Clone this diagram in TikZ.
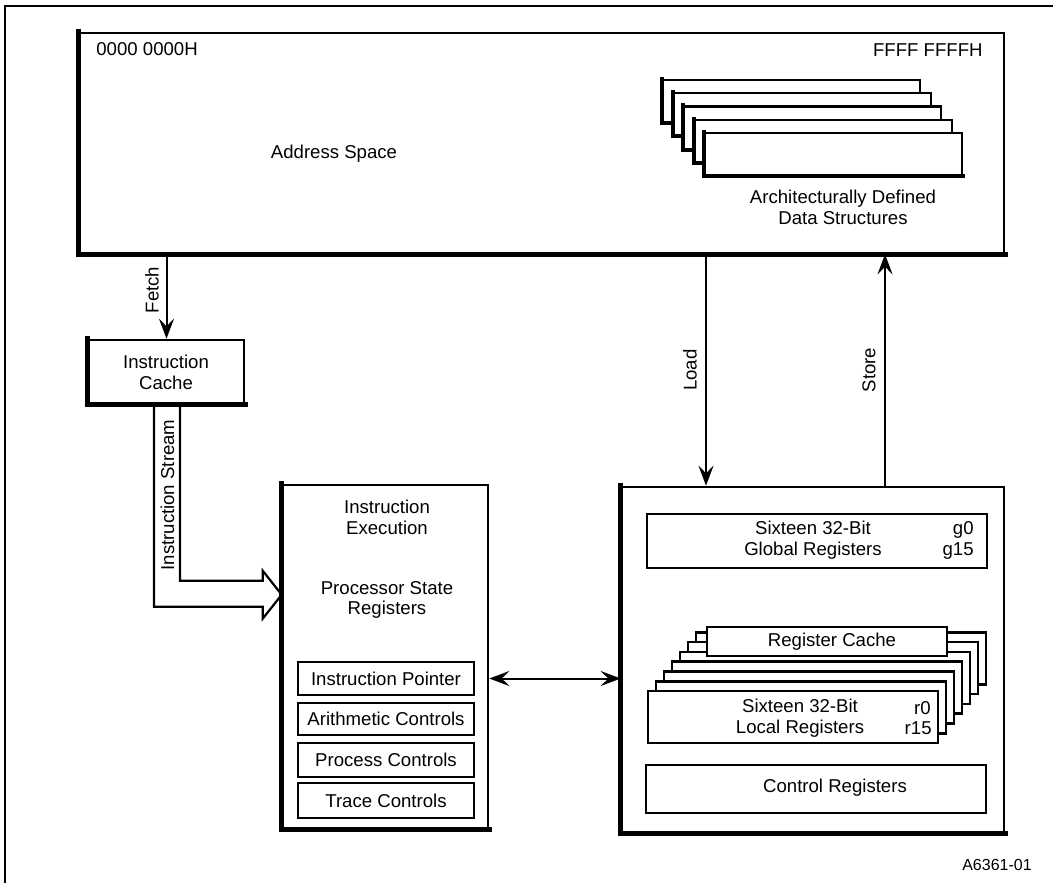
\documentclass[tikz,border=0pt]{standalone}
\usepackage{fontspec}
\setmainfont{Liberation Sans}
\usetikzlibrary{arrows.meta,fit,calc}

% thick left and bottom edge drawn over a box
\newcommand\heavyedge[2][2.4pt]{\draw[line width=#1, line cap=rect] (#2.north west) -- (#2.south west) -- (#2.south east);}

\begin{document}
\begin{tikzpicture}[x=0.5pt,y=-0.5pt,
  every node/.style={font=\fontsize{9.3}{10.4}\selectfont},
  box/.style={draw, line width=1.3pt, inner sep=0pt, fill=white},
  layer/.style={draw, line width=1pt, inner sep=0pt, fill=white},
  txt/.style={align=center, inner sep=0pt},
  tip/.style={Stealth[length=10pt, width=7.5pt, inset=3.8pt]},
  arr/.style={line width=1pt, -{Stealth[length=10pt, width=7.5pt, inset=3.8pt]}},
  dblarr/.style={line width=1pt, {Stealth[length=10pt, width=7.5pt, inset=3.8pt]}-{Stealth[length=10pt, width=7.5pt, inset=3.8pt]}},
  fat/.style={line width=1.1pt, line join=miter},
]
\useasboundingbox (0,0) rectangle (1053,883);

% page frame
\draw[line width=0.8pt] (5,883) -- (5,6) -- (1053,6);

% ---------- address space ----------
\node[box, fit={(80,33) (1004,253)}] (addr) {};
\heavyedge{addr}
\node[txt, anchor=west] (lo) at (96,49) {0000 0000H};
\node[txt, anchor=east] (hi) at (983,50) {FFFF FFFFH};
\node[txt] (addrlbl) at (334,154) {Address Space};

% stacked data structures
\foreach \i in {4,...,0}{
  \node[layer, fit={({705-10.5*\i},{133-13.25*\i}) ({962-10.5*\i},{175-13.25*\i})}] (ds\i) {};
  \heavyedge[2pt]{ds\i}
}
\node[txt] (dslbl) at (843,207.5) {Architecturally Defined\\Data Structures};

% ---------- instruction cache ----------
\node[box, fit={(89,340) (244,403)}] (cache) {};
\heavyedge{cache}
\node[txt] (cachelbl) at (166,372) {Instruction\\Cache};

% ---------- instruction execution ----------
\node[box, fit={(283,485) (488,828)}] (exec) {};
\heavyedge{exec}
\node[txt] (execlbl) at (387,517) {Instruction\\Execution};
\node[txt] (pslbl) at (387,600) {Processor State\\Registers};
\node[box, fit={(298,662) (474,695)}] (ip) {};
\node[txt] at (ip) {Instruction Pointer};
\node[box, fit={(298,703) (474,735)}] (ac) {};
\node[txt] at (ac) {Arithmetic Controls};
\node[box, fit={(298,743) (474,777)}] (pc) {};
\node[txt] at (pc) {Process Controls};
\node[box, fit={(298,783) (474,818)}] (tc) {};
\node[txt] at (tc) {Trace Controls};

% ---------- register file ----------
\node[box, fit={(622,487) (1004,832)}] (regs) {};
\heavyedge{regs}

\node[box, fit={(647,514) (987,568)}] (glob) {};
\node[txt] (globlbl) at (813,540.5) {Sixteen 32-Bit\\Global Registers};
\node[txt, anchor=east] (g0) at (974,530) {g0};
\node[txt, anchor=east] (g15) at (974,551) {g15};

% stacked local register sets
\foreach \i in {6,...,0}{
  \node[box, fit={({648+8*\i},{691-9.8*\i}) ({938+8*\i},{743-9.8*\i})}] (lr\i) {};
}
\node[txt] (loclbl) at (800,718) {Sixteen 32-Bit\\Local Registers};
\node[txt, anchor=east] (r0) at (931,708) {r0};
\node[txt, anchor=east] (r15) at (932,728) {r15};

\node[box, fit={(707,627) (947,656)}] (rc) {};
\node[txt] at (832,642) {Register Cache};

\node[box, fit={(646,765) (986,813)}] (ctrl) {};
\node[txt] at (835,788) {Control Registers};

% ---------- connectors ----------
\draw[arr] (cache.north |- addr.south) -- (cache.north);
\node[txt, rotate=90] (fetchlbl) at (152,290) {Fetch};

\coordinate (ldx) at (706,0);
\coordinate (stx) at (885,0);
\draw[arr] (addr.south -| ldx) -- (regs.north -| ldx);
\draw[arr] (regs.north -| stx) -- (addr.south -| stx);
\node[txt, rotate=90] (loadlbl) at (690,370) {Load};
\node[txt, rotate=90] (storelbl) at (869,370) {Store};

\draw[dblarr] (ip.east -| exec.east) -- (ip.east -| regs.west);

% wide instruction stream arrow
\coordinate (sl) at (154,0);
\coordinate (sr) at (180,0);
\coordinate (tip) at ($(exec.north west)+(0,111)$);
\draw[fat] (cache.south -| sl) |- ($(tip)+(-19,12)$) -- ($(tip)+(-19,24)$) -- (tip)
  -- ($(tip)+(-19,-24)$) -- ($(tip)+(-19,-14)$) -| (cache.south -| sr);
\node[txt, rotate=90] (streamlbl) at (167.5,495) {Instruction Stream};

% figure number
\node[txt, font=\fontsize{8}{9}\selectfont] (fignum) at (997,865) {A6361-01};
\end{tikzpicture}
\end{document}
